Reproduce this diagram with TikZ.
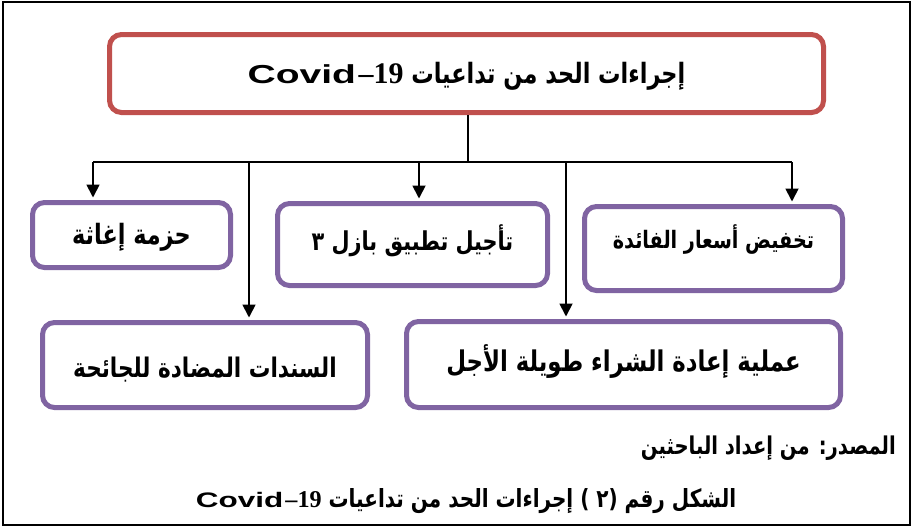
\documentclass[tikz,border=0pt]{standalone}
\usepackage{fontspec}
\TeXXeTstate=1
\newfontfamily\arabicfont[Script=Arabic, FakeStretch=0.8]{DejaVu Sans}
\newfontfamily\latinfont[FakeStretch=1.5]{Liberation Sans}
\newfontfamily\latinserif{Liberation Serif}
\usetikzlibrary{arrows.meta}
\definecolor{boxred}{HTML}{C0504D}
\definecolor{boxpurple}{HTML}{8064A2}
\newcommand{\arf}{\arabicfont\bfseries}
\newcommand{\cov}{{\latinfont\bfseries Covid}\hspace{0.1em}{\latinserif\bfseries\fontsize{1.15em}{1.2em}\selectfont –19}}
\begin{document}
\begin{tikzpicture}[x=1pt,y=-1pt,
  boxbase/.style={line width=5pt, rounded corners=12pt, fill=white,
     inner sep=0pt, text height=0pt, text depth=0pt},
  mainbox/.style={boxbase, draw=boxred},
  subbox/.style={boxbase, draw=boxpurple},
  conn/.style={line width=1.8pt, black},
  arr/.style={conn, -{Triangle[width=13pt,length=13pt]}, shorten >=2.5pt},
  plain/.style={inner sep=0pt, text height=0pt, text depth=0pt}]
\useasboundingbox (0,0) rectangle (913,528);
\draw[line width=2pt] (3,2) rectangle (910,525);

\node[mainbox, minimum width=714pt, minimum height=78pt, font=\fontsize{28}{32}\selectfont]
  (top) at (466.5,73.5) {\raisebox{-9.5pt}{\arf\beginR إجراءات الحد من تداعيات \beginL{\fontsize{26}{30}\selectfont\cov}\endL\endR}};

\node[subbox, minimum width=198pt, minimum height=65pt, font=\fontsize{28}{32}\selectfont]
  (b1) at (131.5,235) {\raisebox{-9.5pt}{\arf\beginR حزمة إغاثة\endR}};
\node[subbox, minimum width=270pt, minimum height=82pt, font=\fontsize{26}{30}\selectfont]
  (b2) at (412.5,244.5) {\raisebox{-5.5pt}{\arf\beginR تأجيل تطبيق بازل ٣\endR}};
\node[subbox, minimum width=258pt, minimum height=84pt, font=\fontsize{24}{28}\selectfont]
  (b3) at (713.5,248.5) {\raisebox{0pt}{\arf\beginR تخفيض أسعار الفائدة\endR}};
\node[subbox, minimum width=325pt, minimum height=85pt, font=\fontsize{27}{31}\selectfont]
  (b4) at (205,365) {\raisebox{-12pt}{\arf\beginR السندات المضادة للجائحة\endR}};
\node[subbox, minimum width=434pt, minimum height=86pt, font=\fontsize{28.5}{33}\selectfont]
  (b5) at (623.5,364.5) {\raisebox{-6.5pt}{\arf\beginR عملية إعادة الشراء طويلة الأجل\endR}};

\coordinate (hub) at (468,162);
\coordinate (busL) at (93,162);
\coordinate (busR) at (792,162);
\coordinate (d4) at (249,162);
\coordinate (d2) at (419,162);
\coordinate (d5) at (566,162);

\draw[conn] (top.south -| hub) -- (hub);
\draw[conn] (busL) -- (busR);
\draw[arr] (busL) -- (busL |- b1.north);
\draw[arr] (d4) -- (d4 |- b4.north);
\draw[arr] (d2) -- (d2 |- b2.north);
\draw[arr] (d5) -- (d5 |- b5.north);
\draw[arr] (busR) -- (busR |- b3.north);

\node[plain, anchor=base east, font=\fontsize{24.5}{28}\selectfont] (src) at (896,454)
  {\arf\beginR المصدر: من إعداد الباحثين\endR};
\node[plain, anchor=base, font=\fontsize{25}{29}\selectfont] (cap) at (466,507)
  {\arf\beginR الشكل رقم (٢ ) إجراءات الحد من تداعيات \beginL{\fontsize{21}{25}\selectfont\cov}\endL\endR};
\end{tikzpicture}
\end{document}
